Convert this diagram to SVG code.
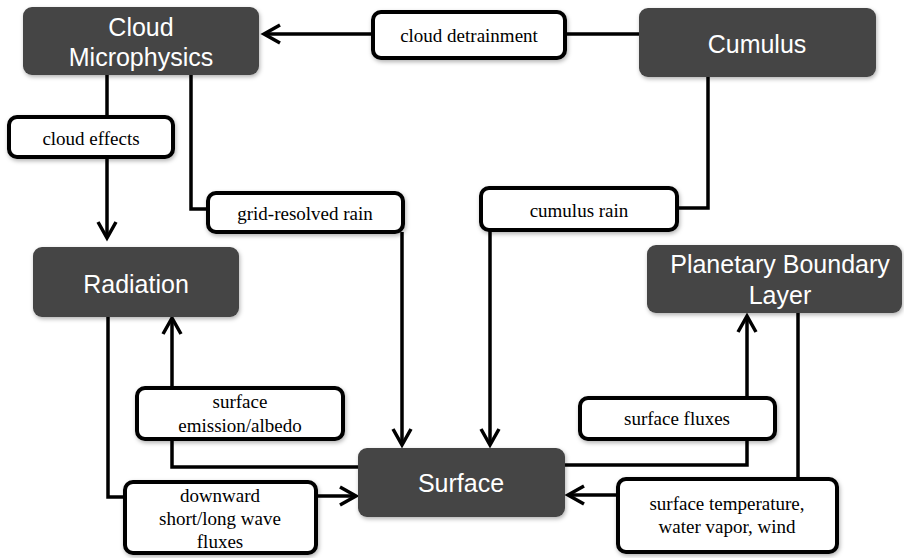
<svg xmlns="http://www.w3.org/2000/svg" width="904" height="558" viewBox="0 0 904 558">
<style>
.node rect{fill:#444444;}
.node text{fill:#ffffff;font-family:"Liberation Sans",Arial,sans-serif;font-size:25px;text-anchor:middle;}
.lbl rect{fill:#ffffff;stroke:#000;stroke-width:4;}
.lbl text{fill:#000;font-family:"Liberation Serif","Times New Roman",serif;font-size:19px;text-anchor:middle;}
.conn path{fill:none;stroke:#000;stroke-width:3.5;}
</style>
<defs>
<filter id="sh" x="-10%" y="-10%" width="130%" height="140%">
<feDropShadow dx="1" dy="2" stdDeviation="2" flood-color="#000" flood-opacity="0.3"/>
</filter>
<marker id="arr" viewBox="-2 -2 24 24" refX="18" refY="10" markerWidth="24" markerHeight="24" markerUnits="userSpaceOnUse" orient="auto">
<path d="M2,1 L18,10 L2,19" fill="none" stroke="#000" stroke-width="3.5"/>
</marker>
</defs>
<g id="connectors" class="conn">
<path d="M639,34 H565"/>
<path d="M373,34 H264" marker-end="url(#arr)"/>
<path d="M107,75 V117"/>
<path d="M107,157 V238" marker-end="url(#arr)"/>
<path d="M191,75 V209 H208"/>
<path d="M402,232 V445" marker-end="url(#arr)"/>
<path d="M708,77 V208 H677"/>
<path d="M490,230 V445" marker-end="url(#arr)"/>
<path d="M358,467 H172 V439"/>
<path d="M172,388 V318" marker-end="url(#arr)"/>
<path d="M108,317 V497 H125"/>
<path d="M316,496 H356" marker-end="url(#arr)"/>
<path d="M565,465 H747 V439"/>
<path d="M747,398 V316" marker-end="url(#arr)"/>
<path d="M798,313 V479"/>
<path d="M618,495 H568" marker-end="url(#arr)"/>
</g>
<g id="cloud-microphysics" class="node"><rect x="23" y="7" width="236" height="68" rx="9" filter="url(#sh)"/><text x="141" y="36">Cloud</text><text x="141" y="66">Microphysics</text></g>
<g id="cumulus" class="node"><rect x="639" y="8" width="237" height="69" rx="9" filter="url(#sh)"/><text x="757" y="53">Cumulus</text></g>
<g id="radiation" class="node"><rect x="33" y="247" width="206" height="70" rx="9" filter="url(#sh)"/><text x="136" y="293">Radiation</text></g>
<g id="surface" class="node"><rect x="358" y="448" width="207" height="69" rx="9" filter="url(#sh)"/><text x="461" y="492">Surface</text></g>
<g id="pbl" class="node"><rect x="647" y="245" width="255" height="68" rx="9" filter="url(#sh)"/><text x="780" y="273">Planetary Boundary</text><text x="780" y="304">Layer</text></g>
<g id="lbl-detrainment" class="lbl"><rect x="373" y="12" width="192" height="46" rx="8" filter="url(#sh)"/><text x="469" y="42">cloud detrainment</text></g>
<g id="lbl-cloud-effects" class="lbl"><rect x="9" y="117" width="164" height="40" rx="8" filter="url(#sh)"/><text x="91" y="145">cloud effects</text></g>
<g id="lbl-grid-rain" class="lbl"><rect x="208" y="193" width="195" height="39" rx="8" filter="url(#sh)"/><text x="305" y="220">grid-resolved rain</text></g>
<g id="lbl-cumulus-rain" class="lbl"><rect x="481" y="188" width="196" height="42" rx="8" filter="url(#sh)"/><text x="579" y="217">cumulus rain</text></g>
<g id="lbl-emission" class="lbl"><rect x="137" y="388" width="206" height="51" rx="8" filter="url(#sh)"/><text x="240" y="408">surface</text><text x="240" y="432">emission/albedo</text></g>
<g id="lbl-downward" class="lbl"><rect x="125" y="482" width="191" height="71" rx="8" filter="url(#sh)"/><text x="220" y="502">downward</text><text x="220" y="525">short/long wave</text><text x="220" y="548">fluxes</text></g>
<g id="lbl-surface-fluxes" class="lbl"><rect x="580" y="398" width="195" height="41" rx="8" filter="url(#sh)"/><text x="677" y="425">surface fluxes</text></g>
<g id="lbl-surface-temp" class="lbl"><rect x="618" y="479" width="219" height="73" rx="8" filter="url(#sh)"/><text x="727" y="510">surface temperature,</text><text x="727" y="533">water vapor, wind</text></g>
</svg>
